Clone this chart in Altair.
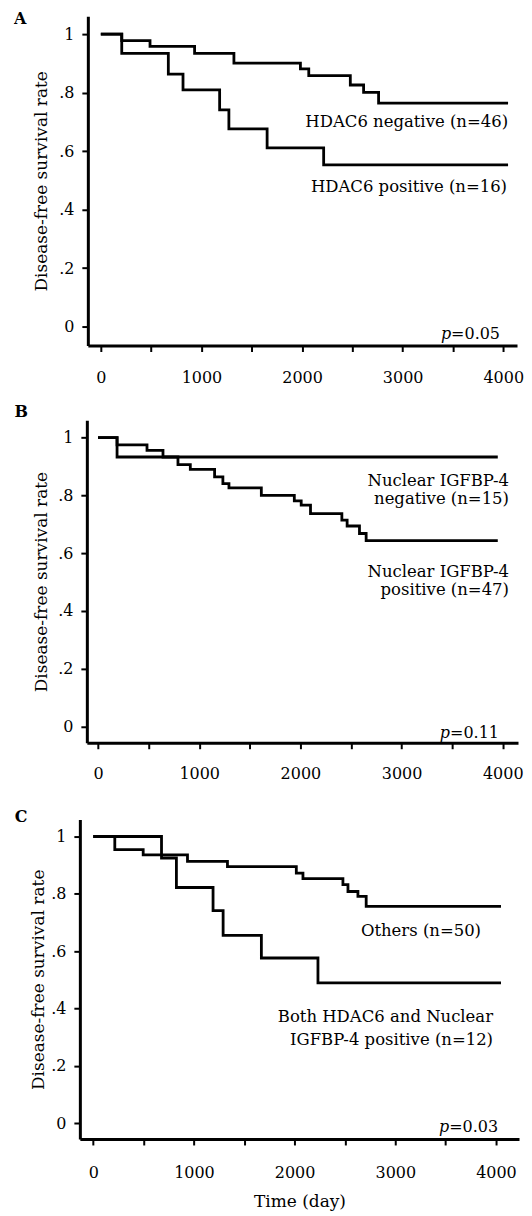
import altair as alt
import pandas as pd

FONT = "DejaVu Serif"

# ---------------- data ----------------
# Panel A
a_neg_t = [0, 208, 489, 932, 1323, 1984, 2067, 2480, 2612, 2761, 4048]
a_neg_s = [1.0, 0.978, 0.958, 0.934, 0.901, 0.881, 0.858, 0.826, 0.801, 0.764, 0.764]
a_pos_t = [0, 208, 671, 817, 1181, 1273, 1653, 2215, 4048]
a_pos_s = [1.0, 0.934, 0.863, 0.809, 0.741, 0.676, 0.611, 0.553, 0.553]

# Panel B
b_neg_t = [0, 188, 3951]
b_neg_s = [1.0, 0.933, 0.933]
b_pos_t = [0, 188, 484, 642, 790, 912, 1152, 1234, 1294, 1614, 1940, 2008, 2100,
           2410, 2462, 2584, 2650, 3951]
b_pos_s = [1.0, 0.975, 0.956, 0.933, 0.907, 0.890, 0.864, 0.841, 0.826, 0.800,
           0.781, 0.766, 0.737, 0.714, 0.694, 0.668, 0.643, 0.643]

# Panel C
c_oth_t = [0, 214, 496, 936, 1333, 2017, 2083, 2480, 2530, 2629, 2711, 4050]
c_oth_s = [1.0, 0.954, 0.936, 0.913, 0.895, 0.872, 0.853, 0.832, 0.808, 0.791, 0.756, 0.756]
c_both_t = [0, 678, 826, 1190, 1290, 1670, 2232, 4050]
c_both_s = [1.0, 0.925, 0.822, 0.741, 0.655, 0.576, 0.489, 0.489]

x_ticks = [0, 500, 1000, 1500, 2000, 2500, 3000, 3500, 4000]
y_ticks = [0.0, 0.1, 0.2, 0.3, 0.4, 0.5, 0.6, 0.7, 0.8, 0.9, 1.0]

y_title = "Disease-free survival rate"


def curves(series):
    rows = []
    for name, ts, ss in series:
        for t, s in zip(ts, ss):
            rows.append({"t": t, "s": s, "grp": name})
    return pd.DataFrame(rows)


def panel(letter, letter_dx, letter_dy, series, xdom, ydom, w, h,
          labels, pval, ptx, pty, title_x, label_pad_x,
          ext_left, ext_top, ext_bottom, spacer_w,
          x_title=None, x_title_y=None):
    df = curves(series)
    xaxis = alt.Axis(
        values=x_ticks, format="d",
        labelExpr="datum.value % 1000 == 0 ? datum.label : ''",
        tickSize=6, labelPadding=label_pad_x, labelFlush=False,
        labelOverlap=False, grid=False,
        title=x_title if x_title else None,
        **({"titleY": x_title_y, "titleBaseline": "alphabetic",
            "titleFont": FONT, "titleFontSize": 17,
            "titleFontWeight": "normal"} if x_title else {}),
    )
    yaxis = alt.Axis(
        values=y_ticks,
        labelExpr=("round(datum.value*10) % 2 == 1 ? '' : "
                   "(round(datum.value*10) == 0 ? '0' : "
                   "(round(datum.value*10) == 10 ? '1' : '.' + round(datum.value*10)))"),
        tickSize={"condition": {"test": "round(datum.value*10) % 2 == 0", "value": 6},
                  "value": 3},
        labelPadding=8, labelFlush=False, labelOverlap=False, grid=False,
        title=y_title, titleX=title_x, titleBaseline="alphabetic",
        titleFont=FONT, titleFontSize=17, titleFontWeight="normal",
    )
    x = alt.X("t:Q", scale=alt.Scale(domain=xdom, nice=False, zero=False), axis=xaxis)
    y = alt.Y("s:Q", scale=alt.Scale(domain=ydom, nice=False, zero=False), axis=yaxis)

    lines = alt.Chart(df).mark_line(
        interpolate="step-after", color="black", strokeWidth=2.8
    ).encode(x=x, y=y, detail="grp:N")

    layers = [lines]
    for (lx, ly, txt, lh) in labels:
        ldf = pd.DataFrame({"t": [lx], "s": [ly], "txt": [txt]})
        layers.append(
            alt.Chart(ldf).mark_text(
                align="right", baseline="alphabetic", font=FONT, fontSize=16.5,
                color="black", lineBreak="\n", lineHeight=lh
            ).encode(x="t:Q", y="s:Q", text="txt:N")
        )
    pdf = pd.DataFrame({"t": [ptx], "s": [pty], "p": ["p"], "rest": ["=" + pval]})
    layers.append(
        alt.Chart(pdf).mark_text(align="right", baseline="alphabetic", font=FONT,
                                 fontSize=16, color="black").encode(
            x="t:Q", y="s:Q", text="rest:N"))
    layers.append(
        alt.Chart(pdf).mark_text(align="right", baseline="alphabetic", font=FONT,
                                 fontSize=16, fontStyle="italic", color="black",
                                 dx=-49).encode(
            x="t:Q", y="s:Q", text="p:N"))
    ldf = pd.DataFrame({"lab": [letter]})
    layers.append(
        alt.Chart(ldf).mark_text(align="left", baseline="alphabetic", font=FONT,
                                 fontSize=16, fontWeight="bold", color="black").encode(
            x=alt.value(letter_dx), y=alt.value(letter_dy), text="lab:N"))
    # white (invisible) frame line fixing the panel's outer extent for the layout
    layers.append(
        alt.Chart(ldf).mark_rule(color="white", strokeWidth=1).encode(
            x=alt.value(ext_left), y=alt.value(ext_top), y2=alt.value(ext_bottom)))
    main = alt.layer(*layers).properties(width=w, height=h)
    spacer = alt.Chart(pd.DataFrame({"z": [0]})).mark_rule(
        color="white", strokeOpacity=0).encode(
        x=alt.value(0), y=alt.value(0), y2=alt.value(1)
    ).properties(width=spacer_w, height=1)
    return alt.hconcat(spacer, main, spacing=0)


pA = panel("A", -74, 8,
           [("neg", a_neg_t, a_neg_s), ("pos", a_pos_t, a_pos_s)],
           [-129, 4137], [-0.0648, 1.0614], 430, 330,
           [(4048, 0.683, "HDAC6 negative (n=46)", 18),
            (4038, 0.461, "HDAC6 positive (n=16)", 18)],
           "0.05", 3968, -0.041, -41, 18,
           -75, -9, 375, 4)

pB = panel("B", -72.5, -3,
           [("neg", b_neg_t, b_neg_s), ("pos", b_pos_t, b_pos_s)],
           [-110.6, 4151], [-0.057, 1.06], 432, 323,
           [(4062, 0.832, "Nuclear IGFBP-4\nnegative (n=15)", 18),
            (4062, 0.517, "Nuclear IGFBP-4\npositive (n=47)", 18)],
           "0.11", 3963, -0.039, -40.5, 17,
           -75, -20, 370, 2.5)

pC = panel("C", -65.3, 2,
           [("oth", c_oth_t, c_oth_s), ("both", c_both_t, c_both_s)],
           [-133, 4229], [-0.0557, 1.059], 440, 320,
           [(3852, 0.652, "Others (n=50)", 23),
            (3971, 0.352, "Both HDAC6 and Nuclear\nIGFBP-4 positive (n=12)", 23)],
           "0.03", 4021, -0.031, -36.3, 20,
           -70, -20, 380, 0.3,
           x_title="Time (day)", x_title_y=68)

chart = alt.vconcat(pA, pB, pC, spacing=8).properties(
    padding={"left": 0, "top": -3, "right": 0, "bottom": 0},
    background="white",
).configure_view(stroke=None).configure_axis(
    domainColor="black", domainWidth=3, tickColor="black", tickWidth=2,
    labelColor="black", labelFont=FONT, labelFontSize=16, titleColor="black",
)

chart.save("out.html", embed_options={"renderer": "svg", "actions": False})
